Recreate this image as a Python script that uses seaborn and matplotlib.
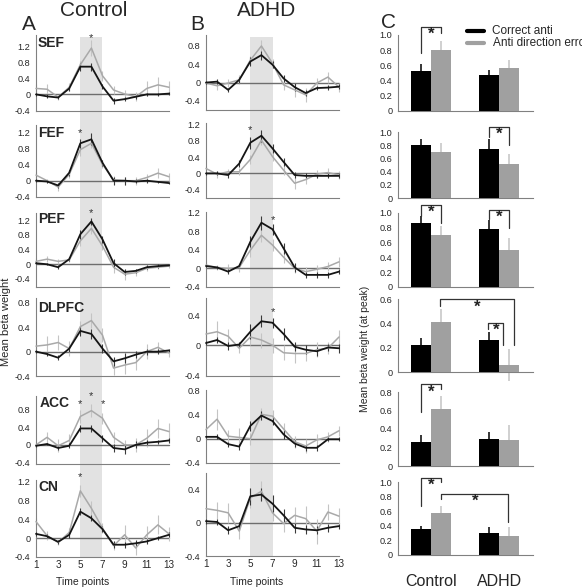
import matplotlib
matplotlib.use("Agg")
import matplotlib.pyplot as plt
from matplotlib.lines import Line2D
import seaborn as sns
import pandas as pd

sns.set_style("white")
plt.rcParams["font.family"] = ["Liberation Sans", "DejaVu Sans"]

# ---------------- data ----------------
time_points = list(range(1, 14))
regions = ["SEF", "FEF", "PEF", "DLPFC", "ACC", "CN"]
groups = ["Control", "ADHD"]
conditions = ["Correct anti", "Anti direction errors"]

# Panel A : Control group time courses
ctrl_sef_correct = [0.0, -0.05, -0.08, 0.15, 0.70, 0.70, 0.20, -0.16, -0.12, -0.06, 0.0, 0.0, 0.02]
ctrl_sef_correct_err = [0.03, 0.05, 0.04, 0.06, 0.10, 0.10, 0.07, 0.08, 0.05, 0.05, 0.03, 0.03, 0.03]
ctrl_sef_error = [0.15, 0.13, -0.07, 0.18, 0.75, 1.17, 0.47, 0.11, 0.01, -0.06, 0.15, 0.24, 0.18]
ctrl_sef_error_err = [0.12, 0.12, 0.06, 0.10, 0.10, 0.20, 0.12, 0.10, 0.10, 0.12, 0.20, 0.20, 0.15]

ctrl_fef_correct = [0.0, -0.02, -0.12, 0.20, 0.94, 1.04, 0.45, 0.0, 0.0, -0.02, 0.0, -0.03, -0.06]
ctrl_fef_correct_err = [0.03, 0.04, 0.06, 0.08, 0.12, 0.15, 0.08, 0.10, 0.10, 0.05, 0.05, 0.03, 0.03]
ctrl_fef_error = [0.14, 0.0, -0.16, 0.16, 0.78, 0.94, 0.41, 0.02, 0.0, 0.0, 0.08, 0.19, 0.10]
ctrl_fef_error_err = [0.08, 0.05, 0.10, 0.10, 0.15, 0.12, 0.10, 0.10, 0.10, 0.10, 0.10, 0.12, 0.10]

ctrl_pef_correct = [0.03, 0.0, -0.08, 0.14, 0.82, 1.17, 0.68, 0.03, -0.21, -0.18, -0.08, -0.05, -0.03]
ctrl_pef_correct_err = [0.03, 0.03, 0.05, 0.06, 0.12, 0.10, 0.10, 0.12, 0.08, 0.06, 0.05, 0.05, 0.03]
ctrl_pef_error = [0.08, 0.14, 0.08, 0.12, 0.64, 0.98, 0.50, -0.08, -0.27, -0.23, -0.11, -0.08, -0.05]
ctrl_pef_error_err = [0.08, 0.08, 0.06, 0.06, 0.15, 0.15, 0.10, 0.15, 0.15, 0.10, 0.08, 0.06, 0.05]

ctrl_dlpfc_correct = [0.0, -0.04, -0.10, 0.05, 0.34, 0.29, 0.05, -0.16, -0.11, -0.05, 0.0, 0.0, 0.02]
ctrl_dlpfc_correct_err = [0.02, 0.03, 0.04, 0.05, 0.08, 0.08, 0.08, 0.08, 0.08, 0.06, 0.05, 0.04, 0.03]
ctrl_dlpfc_error = [0.09, 0.11, 0.15, 0.05, 0.41, 0.51, 0.27, -0.27, -0.22, -0.18, 0.0, 0.07, -0.02]
ctrl_dlpfc_error_err = [0.10, 0.15, 0.12, 0.12, 0.10, 0.12, 0.12, 0.12, 0.14, 0.12, 0.12, 0.08, 0.06]

ctrl_acc_correct = [-0.02, 0.02, -0.07, -0.02, 0.37, 0.37, 0.15, -0.07, -0.10, 0.0, 0.05, 0.07, 0.10]
ctrl_acc_correct_err = [0.03, 0.03, 0.05, 0.06, 0.08, 0.08, 0.08, 0.08, 0.10, 0.08, 0.06, 0.05, 0.05]
ctrl_acc_error = [0.0, 0.17, -0.02, 0.10, 0.64, 0.77, 0.60, 0.17, 0.0, 0.0, 0.15, 0.37, 0.30]
ctrl_acc_error_err = [0.06, 0.12, 0.15, 0.15, 0.15, 0.15, 0.12, 0.12, 0.12, 0.15, 0.20, 0.22, 0.20]

ctrl_cn_correct = [0.09, 0.04, -0.08, 0.07, 0.56, 0.42, 0.19, -0.14, -0.14, -0.11, -0.07, 0.0, 0.07]
ctrl_cn_correct_err = [0.04, 0.04, 0.05, 0.06, 0.08, 0.06, 0.06, 0.08, 0.06, 0.06, 0.06, 0.05, 0.05]
ctrl_cn_error = [0.35, 0.05, -0.09, 0.12, 1.00, 0.63, 0.21, -0.16, 0.07, -0.21, 0.07, 0.28, 0.09]
ctrl_cn_error_err = [0.08, 0.10, 0.06, 0.10, 0.12, 0.15, 0.10, 0.10, 0.20, 0.15, 0.18, 0.20, 0.15]

# Panel B : ADHD group time courses
adhd_sef_correct = [0.0, 0.02, -0.16, 0.06, 0.46, 0.60, 0.39, 0.09, -0.10, -0.23, -0.12, -0.11, -0.09]
adhd_sef_correct_err = [0.03, 0.05, 0.05, 0.06, 0.10, 0.10, 0.08, 0.08, 0.08, 0.06, 0.05, 0.05, 0.05]
adhd_sef_error = [-0.01, -0.07, -0.01, 0.06, 0.49, 0.80, 0.42, -0.05, -0.16, -0.27, -0.01, 0.12, -0.10]
adhd_sef_error_err = [0.05, 0.10, 0.08, 0.10, 0.10, 0.12, 0.10, 0.12, 0.15, 0.15, 0.12, 0.12, 0.10]

adhd_fef_correct = [0.0, 0.0, -0.04, 0.24, 0.75, 0.92, 0.61, 0.28, -0.04, -0.06, -0.06, -0.06, -0.06]
adhd_fef_correct_err = [0.03, 0.05, 0.06, 0.08, 0.15, 0.15, 0.10, 0.10, 0.08, 0.06, 0.06, 0.06, 0.06]
adhd_fef_error = [0.12, -0.02, 0.04, 0.04, 0.34, 0.81, 0.41, 0.08, -0.24, -0.15, -0.02, 0.02, -0.04]
adhd_fef_error_err = [0.06, 0.08, 0.06, 0.08, 0.12, 0.12, 0.10, 0.12, 0.15, 0.12, 0.10, 0.10, 0.10]

adhd_pef_correct = [0.05, 0.02, -0.07, 0.05, 0.57, 0.98, 0.84, 0.43, 0.02, -0.14, -0.14, -0.14, -0.07]
adhd_pef_correct_err = [0.03, 0.04, 0.05, 0.05, 0.12, 0.15, 0.12, 0.12, 0.10, 0.06, 0.06, 0.06, 0.06]
adhd_pef_error = [0.07, 0.02, 0.0, 0.02, 0.39, 0.71, 0.50, 0.24, 0.0, -0.07, -0.02, 0.04, 0.14]
adhd_pef_error_err = [0.06, 0.06, 0.10, 0.10, 0.15, 0.15, 0.12, 0.12, 0.10, 0.10, 0.10, 0.10, 0.10]

adhd_dlpfc_correct = [0.03, 0.07, -0.01, 0.01, 0.18, 0.32, 0.30, 0.15, -0.02, -0.06, -0.08, -0.03, -0.04]
adhd_dlpfc_correct_err = [0.03, 0.04, 0.05, 0.03, 0.10, 0.08, 0.07, 0.08, 0.06, 0.06, 0.06, 0.05, 0.06]
adhd_dlpfc_error = [0.15, 0.18, 0.12, -0.04, 0.11, 0.07, 0.0, -0.10, -0.11, -0.11, -0.06, -0.04, 0.11]
adhd_dlpfc_error_err = [0.06, 0.14, 0.10, 0.06, 0.10, 0.10, 0.10, 0.10, 0.12, 0.10, 0.10, 0.08, 0.10]

adhd_acc_correct = [0.03, 0.03, -0.09, -0.13, 0.21, 0.38, 0.29, 0.07, -0.08, -0.15, -0.15, -0.01, -0.01]
adhd_acc_correct_err = [0.02, 0.04, 0.04, 0.05, 0.08, 0.08, 0.07, 0.07, 0.06, 0.05, 0.05, 0.03, 0.03]
adhd_acc_error = [0.15, 0.32, 0.04, 0.02, 0.0, 0.40, 0.37, 0.16, -0.05, -0.12, -0.02, 0.03, 0.13]
adhd_acc_error_err = [0.05, 0.17, 0.10, 0.15, 0.10, 0.10, 0.10, 0.10, 0.10, 0.12, 0.10, 0.08, 0.08]

adhd_cn_correct = [0.02, 0.01, -0.09, -0.04, 0.32, 0.34, 0.23, 0.09, -0.06, -0.08, -0.09, -0.06, -0.04]
adhd_cn_correct_err = [0.03, 0.04, 0.05, 0.05, 0.10, 0.08, 0.10, 0.08, 0.06, 0.05, 0.05, 0.05, 0.03]
adhd_cn_error = [0.17, 0.15, 0.12, -0.10, 0.30, 0.38, 0.12, -0.01, 0.09, 0.05, -0.10, 0.13, 0.08]
adhd_cn_error_err = [0.10, 0.10, 0.12, 0.10, 0.12, 0.12, 0.10, 0.10, 0.10, 0.15, 0.15, 0.10, 0.10]

# significance stars (time point, height)
ctrl_stars = [[(6, 1.42)], [(5, 1.19)], [(6, 1.41)], [], [(5, 0.92), (6, 1.10), (7, 0.92)], [(5, 1.29)]]
adhd_stars = [[], [(5, 1.06)], [(7, 1.03)], [(7, 0.44)], [], []]

# Panel C : peak beta weights
peak_ctrl_correct = [0.52, 0.80, 0.87, 0.22, 0.26, 0.35]
peak_ctrl_correct_sem = [0.10, 0.10, 0.09, 0.06, 0.08, 0.05]
peak_ctrl_error = [0.80, 0.69, 0.70, 0.41, 0.62, 0.57]
peak_ctrl_error_sem = [0.12, 0.14, 0.12, 0.11, 0.14, 0.10]
peak_adhd_correct = [0.47, 0.75, 0.78, 0.26, 0.29, 0.30]
peak_adhd_correct_sem = [0.07, 0.14, 0.12, 0.07, 0.08, 0.09]
peak_adhd_error = [0.56, 0.52, 0.50, 0.06, 0.28, 0.26]
peak_adhd_error_sem = [0.11, 0.15, 0.16, 0.13, 0.16, 0.12]

# ---------------- layout ----------------
W, H = 582, 588
fig = plt.figure(figsize=(W / 100, H / 100), dpi=100)


def rect(l, t, r, b):
    return [l / W, 1 - b / H, (r - l) / W, (b - t) / H]


def fx(x):
    return x / W


def fy(y):
    return 1 - y / H


def fmt(v):
    return "0" if abs(v) < 1e-9 else f"{v:.1f}"


DARK = "#151515"
LIGHT = "#a9a9a9"
DARK_ERR = "#3a3a3a"
LIGHT_ERR = "#c4c4c4"
SPINE = "#808080"
TICK_FS = 6.6

colA = (36, 169)
colB = (206, 339)
rowsA = [
    (35, 111, (-0.42, 1.5), [-0.4, 0, 0.4, 0.8, 1.2]),
    (125, 197, (-0.41, 1.4), [-0.4, 0, 0.4, 0.8, 1.2]),
    (213, 287, (-0.62, 1.4), [-0.4, 0, 0.4, 0.8, 1.2]),
    (298, 376, (-0.40, 0.88), [-0.4, 0, 0.4, 0.8]),
    (396, 464, (-0.43, 1.1), [-0.4, 0, 0.4, 0.8]),
    (480, 557, (-0.40, 1.23), [-0.4, 0, 0.4, 0.8, 1.2]),
]
rowsB = [
    (35, 110, (-0.60, 1.04), [-0.4, 0, 0.4, 0.8]),
    (123, 198, (-0.60, 1.23), [-0.4, 0, 0.4, 0.8, 1.2]),
    (212, 287, (-0.40, 1.21), [-0.4, 0, 0.4, 0.8, 1.2]),
    (298, 376, (-0.41, 0.63), [-0.4, 0, 0.4]),
    (390, 463, (-0.39, 0.80), [-0.4, 0, 0.4, 0.8]),
    (473, 556, (-0.39, 0.60), [-0.4, 0, 0.4]),
]
label_pos = [(38, 43), (38, 133), (38, 219), (38, 308), (40, 403), (38, 487)]

ctrl_series = [
    (ctrl_sef_correct, ctrl_sef_correct_err, ctrl_sef_error, ctrl_sef_error_err),
    (ctrl_fef_correct, ctrl_fef_correct_err, ctrl_fef_error, ctrl_fef_error_err),
    (ctrl_pef_correct, ctrl_pef_correct_err, ctrl_pef_error, ctrl_pef_error_err),
    (ctrl_dlpfc_correct, ctrl_dlpfc_correct_err, ctrl_dlpfc_error, ctrl_dlpfc_error_err),
    (ctrl_acc_correct, ctrl_acc_correct_err, ctrl_acc_error, ctrl_acc_error_err),
    (ctrl_cn_correct, ctrl_cn_correct_err, ctrl_cn_error, ctrl_cn_error_err),
]
adhd_series = [
    (adhd_sef_correct, adhd_sef_correct_err, adhd_sef_error, adhd_sef_error_err),
    (adhd_fef_correct, adhd_fef_correct_err, adhd_fef_error, adhd_fef_error_err),
    (adhd_pef_correct, adhd_pef_correct_err, adhd_pef_error, adhd_pef_error_err),
    (adhd_dlpfc_correct, adhd_dlpfc_correct_err, adhd_dlpfc_error, adhd_dlpfc_error_err),
    (adhd_acc_correct, adhd_acc_correct_err, adhd_acc_error, adhd_acc_error_err),
    (adhd_cn_correct, adhd_cn_correct_err, adhd_cn_error, adhd_cn_error_err),
]

# shaded peak window behind each column
for col in (colA, colB):
    bg = fig.add_axes(rect(col[0], 37, col[1], 557), zorder=0)
    bg.set_xlim(1, 13)
    bg.axvspan(5, 7, color="#e2e2e2", lw=0)
    bg.axis("off")


def draw_timecourse(col, row, series, stars, last):
    top, bot, ylim, yticks = row
    ax = fig.add_axes(rect(col[0], top, col[1], bot), zorder=2)
    ax.set_facecolor("none")
    corr, corr_err, err, err_err = series
    df = pd.DataFrame({"time": time_points * 2,
                       "beta": corr + err,
                       "cond": [conditions[0]] * 13 + [conditions[1]] * 13})
    ax.axhline(0, color="#6e6e6e", lw=1.0, zorder=1)
    # error bars
    ax.vlines(time_points, [v - e for v, e in zip(err, err_err)],
              [v + e for v, e in zip(err, err_err)], color=LIGHT_ERR, lw=0.8, zorder=2, clip_on=False)
    ax.vlines(time_points, [v - e for v, e in zip(corr, corr_err)],
              [v + e for v, e in zip(corr, corr_err)], color=DARK_ERR, lw=0.8, zorder=3, clip_on=False)
    sns.lineplot(data=df[df.cond == conditions[1]], x="time", y="beta", color=LIGHT,
                 lw=1.1, ax=ax, errorbar=None, legend=False, zorder=4)
    sns.lineplot(data=df[df.cond == conditions[0]], x="time", y="beta", color=DARK,
                 lw=1.3, ax=ax, errorbar=None, legend=False, zorder=5)
    for line in ax.lines:
        line.set_clip_on(False)
    for t, yv in stars:
        ax.text(t, yv, "*", ha="center", va="center", fontsize=8, color="#333333", zorder=6)
    ax.set_xlim(1, 13)
    ax.set_ylim(*ylim)
    ax.set_yticks(yticks)
    ax.set_yticklabels([fmt(v) for v in yticks], fontsize=TICK_FS)
    ax.set_xticks(time_points)
    if last:
        ax.set_xticklabels([str(t) if t % 2 == 1 else "" for t in time_points], fontsize=TICK_FS + 0.5)
    else:
        ax.set_xticklabels([])
    ax.tick_params(axis="x", direction="in", length=2.5, width=0.6, color=SPINE, pad=2.5)
    ax.tick_params(axis="y", direction="out", length=2.5, width=0.6, color=SPINE, pad=1.5)
    ax.set_xlabel("")
    ax.set_ylabel("")
    for s in ("top", "right"):
        ax.spines[s].set_visible(False)
    for s in ("left", "bottom"):
        ax.spines[s].set_color(SPINE)
        ax.spines[s].set_linewidth(0.8)
    return ax


for i in range(6):
    draw_timecourse(colA, rowsA[i], ctrl_series[i], ctrl_stars[i], i == 5)
    draw_timecourse(colB, rowsB[i], adhd_series[i], adhd_stars[i], i == 5)
    lx, ly = label_pos[i]
    fig.text(fx(lx), fy(ly), regions[i], fontsize=10, fontweight="bold", ha="left", va="center", zorder=10)

# ---------------- Panel C ----------------
colC = (398, 533)
rowsC = [
    (35, 111, 1.0, [0, 0.2, 0.4, 0.6, 0.8, 1.0]),
    (132, 198, 1.0, [0, 0.2, 0.4, 0.6, 0.8, 1.0]),
    (213, 287, 1.0, [0, 0.2, 0.4, 0.6, 0.8, 1.0]),
    (299, 372, 0.6, [0, 0.2, 0.4, 0.6]),
    (392, 466, 0.8, [0, 0.2, 0.4, 0.6, 0.8]),
    (482, 555, 1.0, [0, 0.2, 0.4, 0.6, 0.8, 1.0]),
]
# brackets: (x_left, y_left, y_top, x_right, y_right, star_x, star_y)
brackets = [
    [(-0.145, 0.76, 1.11, 0.145, 1.03, 0.0, 1.01)],
    [(0.855, 0.93, 1.07, 1.145, 0.80, 1.0, 0.96)],
    [(-0.145, 0.96, 1.11, 0.145, 0.87, 0.0, 1.01), (0.855, 0.92, 1.04, 1.145, 0.80, 1.0, 0.94)],
    [(0.13, 0.54, 0.60, 1.22, 0.22, 0.68, 0.535), (0.84, 0.35, 0.40, 1.06, 0.22, 0.96, 0.34)],
    [(-0.145, 0.58, 0.89, 0.145, 0.83, 0.0, 0.80)],
    [(-0.145, 0.67, 1.05, 0.145, 1.00, 0.0, 0.95), (0.145, 0.77, 0.84, 1.13, 0.45, 0.65, 0.74)],
]

for i in range(6):
    top, bot, ymax, yticks = rowsC[i]
    ax = fig.add_axes(rect(colC[0], top, colC[1], bot), zorder=2)
    ax.set_facecolor("none")
    df = pd.DataFrame({
        "group": groups * 2,
        "cond": [conditions[0]] * 2 + [conditions[1]] * 2,
        "beta": [peak_ctrl_correct[i], peak_adhd_correct[i], peak_ctrl_error[i], peak_adhd_error[i]],
        "spread": [peak_ctrl_correct_sem[i], peak_adhd_correct_sem[i], peak_ctrl_error_sem[i], peak_adhd_error_sem[i]],
    })
    sns.barplot(data=df, x="group", y="beta", hue="cond", order=groups, hue_order=conditions,
                palette=["#000000", "#a0a0a0"], width=0.58, errorbar=None, ax=ax,
                legend=False, saturation=1, zorder=3, edgecolor="none", linewidth=0)
    for k, cont in enumerate(ax.containers):
        sub = df[df["cond"] == conditions[k]].set_index("group").loc[groups]
        xs = [b.get_x() + b.get_width() / 2 for b in cont]
        lo = (sub["beta"] - sub["spread"]).tolist()
        hi = (sub["beta"] + sub["spread"]).tolist()
        ax.vlines(xs, lo, hi, color="#000000" if k == 0 else LIGHT_ERR, lw=1.1, zorder=2, clip_on=False)
    for (x1, y1, yt, x2, y2, sx, sy) in brackets[i]:
        ax.plot([x1, x1, x2, x2], [y1, yt, yt, y2], color="#333333", lw=0.9, clip_on=False, zorder=4)
        ax.text(sx, sy, "*", ha="center", va="center", fontsize=12, fontweight="bold", color="#222222", zorder=5)
    ax.set_xlim(-0.485, 1.5)
    ax.set_ylim(0, ymax)
    ax.set_yticks(yticks)
    ax.set_yticklabels([fmt(v) for v in yticks], fontsize=TICK_FS)
    ax.set_xticks([])
    ax.set_xlabel("")
    ax.set_ylabel("")
    ax.tick_params(axis="y", direction="out", length=2.5, width=0.6, color=SPINE, pad=1.5)
    for s in ("top", "right"):
        ax.spines[s].set_visible(False)
    for s in ("left", "bottom"):
        ax.spines[s].set_color(SPINE)
        ax.spines[s].set_linewidth(0.8)

# legend
fig.add_artist(Line2D([fx(467), fx(484)], [fy(30.7), fy(30.7)], color="#000000", lw=3))
fig.add_artist(Line2D([fx(467), fx(484)], [fy(42.7), fy(42.7)], color="#a0a0a0", lw=3))
fig.text(fx(492.5), fy(30.5), conditions[0], fontsize=8.5, ha="left", va="center")
fig.text(fx(493), fy(43), conditions[1], fontsize=8.5, ha="left", va="center")

# titles & labels
fig.text(fx(94), fy(10), "Control", fontsize=15, ha="center", va="center")
fig.text(fx(267), fy(10), "ADHD", fontsize=15, ha="center", va="center")
fig.text(fx(29), fy(24), "A", fontsize=15, ha="center", va="center")
fig.text(fx(197), fy(24), "B", fontsize=15, ha="center", va="center")
fig.text(fx(388), fy(22), "C", fontsize=15, ha="center", va="center")
fig.text(fx(6), fy(322), "Mean beta weight", fontsize=8, rotation=90, ha="center", va="center")
fig.text(fx(365), fy(349), "Mean beta weight (at peak)", fontsize=7.5, rotation=90, ha="center", va="center")
fig.text(fx(83), fy(582), "Time points", fontsize=7.5, ha="center", va="center")
fig.text(fx(257), fy(582), "Time points", fontsize=7.5, ha="center", va="center")
fig.text(fx(431), fy(581), "Control", fontsize=11.5, ha="center", va="center")
fig.text(fx(500), fy(581), "ADHD", fontsize=11.5, ha="center", va="center")

fig.savefig("out.png", dpi=100)
